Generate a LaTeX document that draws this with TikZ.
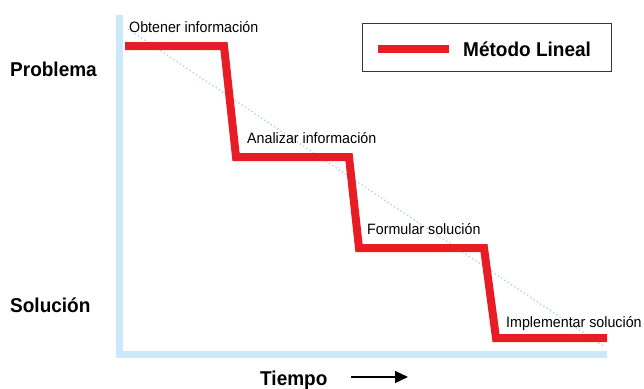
\documentclass[tikz,border=0pt]{standalone}
\usepackage{fontspec}
\setmainfont{Liberation Sans}[FakeStretch=0.95]
\usetikzlibrary{arrows.meta}
\definecolor{axisblue}{RGB}{205,232,250}
\definecolor{dotblue}{RGB}{170,210,238}
\definecolor{stairred}{RGB}{232,28,36}
\definecolor{boxgray}{RGB}{55,55,55}
\tikzset{
  lbl/.style={font=\fontsize{15}{17}\selectfont, inner sep=0pt, anchor=base west},
  big/.style={font=\bfseries\fontsize{20}{23}\selectfont, inner sep=0pt, anchor=base west},
  axisline/.style={draw=axisblue, line width=7pt, line join=miter},
  stairline/.style={draw=stairred, line width=8pt, line join=miter},
  guide/.style={draw=dotblue, line width=1.3pt, dash pattern=on 1.3pt off 2.6pt},
  legendbox/.style={draw=boxgray, line width=1.2pt, fill=white},
}
\begin{document}
\begin{tikzpicture}[x=1pt,y=-1pt]
\useasboundingbox (0,0) rectangle (644,388);
% axes
\coordinate (top) at (119,15);
\coordinate (orig) at (119,354);
\coordinate (xend) at (607,354);
\draw[axisline] (top) -- (orig) -- (xend);
% dotted diagonal
\coordinate (d1) at (128,29);
\coordinate (d2) at (605,347);
\draw[guide] (d1) -- (d2);
% staircase
\coordinate (s0) at (125,46);
\coordinate (s1) at (224,46);
\coordinate (s2) at (236,157);
\coordinate (s3) at (349,157);
\coordinate (s4) at (359,248);
\coordinate (s5) at (484,248);
\coordinate (s6) at (496,338);
\coordinate (s7) at (607,338);
\draw[stairline] (s0) -- (s1) -- (s2) -- (s3) -- (s4) -- (s5) -- (s6) -- (s7);
% step labels
\node[lbl] (obt) at (129,32) {Obtener información};
\node[lbl] (ana) at (247,143) {Analizar información};
\node[lbl] (for) at (367,234) {Formular solución};
\node[lbl] (imp) at (506,327) {Implementar solución};
% side labels
\node[big] (prob) at (10,76) {Problema};
\node[big] (sol) at (10,312) {Solución};
\node[big] (tiem) at (260,385) {Tiempo};
\coordinate (arrA) at (351,377);
\coordinate (arrB) at (408,377);
\draw[line width=1.3pt, -{Triangle[length=13pt,width=12pt]}] (arrA) -- (arrB);
% legend
\node[legendbox, minimum width=249pt, minimum height=48pt, anchor=north west] (leg) at (362,23) {};
\coordinate (la) at (378,49);
\coordinate (lb) at (449,49);
\draw[draw=stairred, line width=8pt] (la) -- (lb);
\node[big] (legtxt) at (463,56) {Método Lineal};
\end{tikzpicture}
\end{document}
